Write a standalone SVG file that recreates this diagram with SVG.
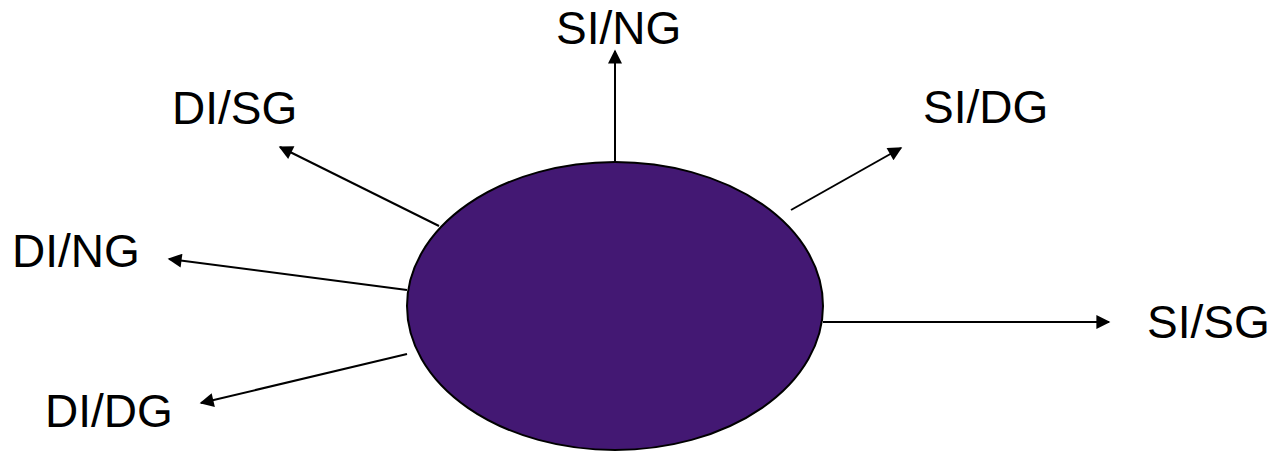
<svg xmlns="http://www.w3.org/2000/svg" width="1278" height="452" viewBox="0 0 1278 452">
<defs>
<style>
.lbl{font-family:"Liberation Sans",Arial,sans-serif;font-size:46px;fill:#000}
.conn line{stroke:#000;stroke-width:2;marker-end:url(#ah)}
</style>
<marker id="ah" viewBox="0 0 10 10" refX="9" refY="5" markerWidth="8" markerHeight="7" markerUnits="strokeWidth" orient="auto">
<path d="M0,0 L10,5 L0,10 z" fill="#000"/>
</marker>
</defs>
<rect width="1278" height="452" fill="#fff"/>
<g id="center">
<ellipse cx="615" cy="306" rx="208" ry="144" fill="#431873" stroke="#000" stroke-width="2"/>
</g>
<g id="connectors" class="conn">
<line x1="615" y1="162" x2="615" y2="51"/>
<line x1="791" y1="210" x2="901" y2="148"/>
<line x1="823" y1="322" x2="1109" y2="322"/>
<line x1="439" y1="226" x2="280" y2="147"/>
<line x1="407" y1="290" x2="169" y2="259"/>
<line x1="407" y1="354" x2="201" y2="403"/>
</g>
<g id="n-si-ng"><text class="lbl" x="556" y="44">SI/NG</text></g>
<g id="n-di-sg"><text class="lbl" x="172" y="124">DI/SG</text></g>
<g id="n-si-dg"><text class="lbl" x="923" y="123">SI/DG</text></g>
<g id="n-di-ng"><text class="lbl" x="12" y="267">DI/NG</text></g>
<g id="n-di-dg"><text class="lbl" x="45" y="427">DI/DG</text></g>
<g id="n-si-sg"><text class="lbl" x="1147" y="338">SI/SG</text></g>
</svg>
